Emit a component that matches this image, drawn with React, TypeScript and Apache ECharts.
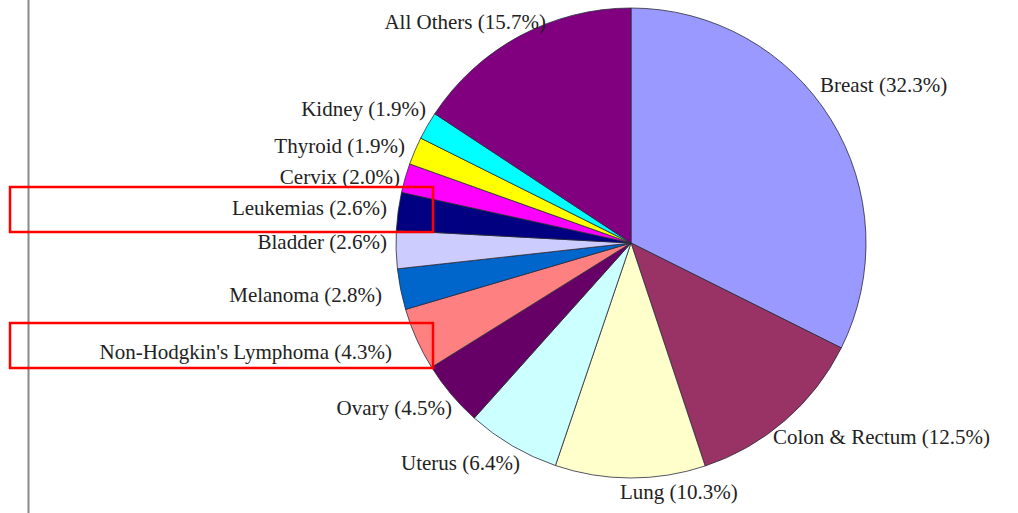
import React, { useEffect, useRef } from "react";
import * as echarts from "echarts";

const categories = [
  "Breast",
  "Colon & Rectum",
  "Lung",
  "Uterus",
  "Ovary",
  "Non-Hodgkin's Lymphoma",
  "Melanoma",
  "Bladder",
  "Leukemias",
  "Cervix",
  "Thyroid",
  "Kidney",
  "All Others",
];
const values = [32.3, 12.5, 10.3, 6.4, 4.5, 4.3, 2.8, 2.6, 2.6, 2.0, 1.9, 1.9, 15.7];
const colors = [
  "#9999FF",
  "#993366",
  "#FFFFCC",
  "#CCFFFF",
  "#660066",
  "#FF8080",
  "#0066CC",
  "#CCCCFF",
  "#000080",
  "#FF00FF",
  "#FFFF00",
  "#00FFFF",
  "#800080",
];
const highlighted = ["Leukemias", "Non-Hodgkin's Lymphoma"];

// label anchor positions (layout only)
const labelPos: { x: number; y: number; align: "left" | "right" }[] = [
  { x: 820, y: 85, align: "left" },
  { x: 773, y: 437, align: "left" },
  { x: 620, y: 492, align: "left" },
  { x: 520, y: 463, align: "right" },
  { x: 452, y: 408, align: "right" },
  { x: 392, y: 352, align: "right" },
  { x: 382, y: 295, align: "right" },
  { x: 387, y: 242, align: "right" },
  { x: 387, y: 208, align: "right" },
  { x: 400, y: 177, align: "right" },
  { x: 405, y: 146, align: "right" },
  { x: 426, y: 109, align: "right" },
  { x: 546, y: 22, align: "right" },
];

export default function App() {
  const ref = useRef<HTMLDivElement>(null);
  useEffect(() => {
    if (!ref.current) return;
    const chart = echarts.init(ref.current, null, { renderer: "svg" });
    const boxYs: Record<string, number> = { Leukemias: 187, "Non-Hodgkin's Lymphoma": 323 };
    chart.setOption({
      animation: false,
      backgroundColor: "#ffffff",
      graphic: [
        {
          type: "line",
          shape: { x1: 28.5, y1: 0, x2: 28.5, y2: 513 },
          style: { stroke: "#8a8a8a", lineWidth: 2 },
          z: 10,
        },
        ...highlighted.map((h) => ({
          type: "rect",
          shape: { x: 10, y: boxYs[h], width: 423, height: 45 },
          style: { fill: "none", stroke: "#ff0000", lineWidth: 2.5 },
          z: 100,
        })),
      ],
      series: [
        {
          type: "pie",
          center: [631, 243],
          radius: 235,
          startAngle: 90,
          clockwise: true,
          avoidLabelOverlap: false,
          data: categories.map((c, i) => ({
            name: c,
            value: values[i],
            itemStyle: { color: colors[i] },
          })),
          itemStyle: { borderColor: "#2a2a3a", borderWidth: 0.8 },
          label: {
            show: true,
            position: "outside",
            formatter: (p: any) => `${p.name} (${Number(p.value).toFixed(1)}%)`,
            fontFamily: "Liberation Serif",
            fontSize: 21,
            color: "#222222",
          },
          labelLine: { show: false },
          labelLayout: (params: any) => {
            const lp = labelPos[params.dataIndex];
            return { x: lp.x, y: lp.y, align: lp.align, verticalAlign: "middle" };
          },
          emphasis: { disabled: true },
        },
      ],
    });
    return () => chart.dispose();
  }, []);
  return (
    <div
      ref={ref}
      style={{ position: "fixed", left: 0, top: 0, width: 1018, height: 513 }}
    />
  );
}
